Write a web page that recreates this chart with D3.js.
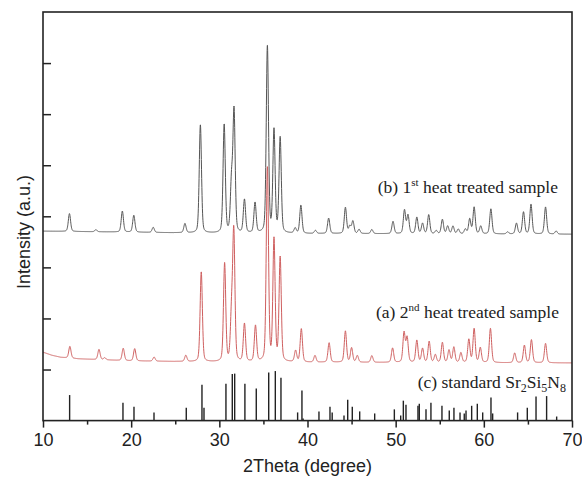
<!DOCTYPE html>
<html><head><meta charset="utf-8">
<script src="https://cdn.jsdelivr.net/npm/d3@7"></script>
<style>body{margin:0;background:#fff}svg{display:block}</style>
</head><body>
<svg id="chart" width="582" height="477"></svg>
<script>
// ---- data ----
const xTicks = [10, 20, 30, 40, 50, 60, 70];
const xMinorTicks = [15, 25, 35, 45, 55, 65];
const yTicks = [100, 200, 300, 400, 500, 600, 700];

// (b) 1st heat treated sample : baseline points and peaks [2theta, height]
const bBaseline = [[10, 371], [20, 369], [30, 367], [50, 366], [70, 365]];
const bPeaks = [
  [13.0, 35], [16.0, 4], [19.0, 41], [20.3, 33], [22.5, 10], [26.1, 18],
  [27.85, 212], [30.55, 212], [31.38, 95], [31.67, 236], [32.85, 65], [34.05, 59],
  [35.45, 366], [36.2, 200], [36.9, 186], [38.6, 10], [39.25, 55], [40.9, 6],
  [42.4, 30], [44.3, 51], [44.8, 14], [45.15, 24], [45.85, 8], [47.3, 8],
  [49.7, 24], [51.0, 46], [51.4, 36], [52.4, 32], [53.05, 20], [53.75, 37],
  [54.6, 6], [55.3, 28], [55.9, 15], [56.5, 15], [57.1, 9], [57.9, 9],
  [58.4, 29], [58.9, 52], [59.65, 15], [60.8, 49], [62.7, 4], [63.7, 21],
  [64.5, 43], [65.35, 58], [67.0, 53], [68.2, 6]
];

// (a) 2nd heat treated sample
const aBaseline = [[10, 134], [11, 128], [12, 124], [14, 121], [20, 117], [30, 115], [70, 113]];
const aPeaks = [
  [13.05, 23], [16.35, 20], [17.0, 4], [19.1, 24], [20.4, 24], [22.6, 8], [26.2, 12],
  [27.95, 176], [30.6, 192], [31.38, 85], [31.64, 252], [32.85, 74], [34.1, 70],
  [35.45, 380], [36.2, 238], [36.9, 203], [38.65, 22], [39.3, 65], [40.85, 13],
  [42.45, 38], [44.3, 61], [45.0, 28], [45.65, 13], [47.3, 13], [49.65, 28],
  [50.95, 58], [51.3, 48], [52.4, 43], [53.05, 27], [53.8, 41], [54.5, 15],
  [55.3, 39], [56.05, 24], [56.6, 30], [57.4, 19], [58.3, 45], [58.9, 66],
  [59.6, 29], [60.75, 67], [63.5, 19], [64.6, 34], [65.4, 45], [67.0, 38]
];

// (c) standard Sr2Si5N8 reference lines [2theta, intensity]
const cLines = [
  [13.02, 50], [19.07, 35], [20.32, 27], [22.59, 16], [26.25, 25], [28.03, 70],
  [28.26, 25], [30.75, 72], [31.47, 91], [31.74, 92], [32.9, 72], [34.19, 63],
  [35.6, 94], [36.35, 97], [36.99, 84], [38.88, 16], [39.37, 59], [39.5, 4],
  [41.3, 18], [42.55, 27], [42.8, 16], [44.14, 10], [44.56, 41], [45.08, 27],
  [45.92, 18], [47.62, 14], [49.85, 22], [50.57, 10], [50.87, 39], [51.17, 31],
  [52.53, 29], [52.68, 33], [53.44, 22], [54.0, 35], [55.25, 29], [56.08, 20],
  [56.61, 25], [57.3, 16], [57.78, 14], [57.98, 20], [58.62, 29], [59.26, 33],
  [59.87, 16], [60.81, 45], [61.0, 14], [63.83, 16], [64.93, 25], [65.92, 47],
  [67.12, 48], [68.26, 8]
];

// ---- drawing ----
const W = 582, H = 477;
const m = {left: 43, top: 12, right: 10, bottom: 56.4};
const svg = d3.select("#chart");
const x = d3.scaleLinear().domain([10, 70]).range([m.left, W - m.right]);
const y = d3.scaleLinear().domain([0, 800]).range([H - m.bottom, m.top]);

function profile(peaks, baseline) {
  const fwhm = 0.3, eta = 0.3;
  const s = fwhm / 2.3548, g = fwhm / 2;
  const bx = baseline.map(d => d[0]), by = baseline.map(d => d[1]);
  const base = d3.scaleLinear().domain(bx).range(by);
  const pts = [];
  for (let t = 10; t <= 70.0001; t += 0.02) {
    let v = base(t);
    for (const [p, h] of peaks) {
      const dx = t - p;
      if (Math.abs(dx) > 3) continue;
      const gau = Math.exp(-dx * dx / (2 * s * s));
      const lor = 1 / (1 + (dx / g) * (dx / g));
      v += h * ((1 - eta) * gau + eta * lor);
    }
    pts.push([t, v]);
  }
  return pts;
}

const line = d3.line().x(d => x(d[0])).y(d => y(d[1]));

svg.append("path").datum(profile(bPeaks, bBaseline))
  .attr("d", line).attr("fill", "none").attr("stroke", "#555").attr("stroke-width", 1);
svg.append("path").datum(profile(aPeaks, aBaseline))
  .attr("d", line).attr("fill", "none").attr("stroke", "#cf5f5f").attr("stroke-width", 1);

svg.append("g").selectAll("line").data(cLines).join("line")
  .attr("x1", d => x(d[0])).attr("x2", d => x(d[0]))
  .attr("y1", y(0)).attr("y2", d => y(d[1]))
  .attr("stroke", "#222").attr("stroke-width", 1.4);

// axes
const fontSans = "'Liberation Sans', Arial, sans-serif";
const xAxis = svg.append("g").attr("transform", `translate(0,${y(0)})`)
  .call(d3.axisBottom(x).tickValues(xTicks).tickSize(7).tickPadding(6).tickSizeOuter(0));
xAxis.selectAll("text").attr("font-family", fontSans).attr("font-size", 18).attr("fill", "#222");
svg.append("g").attr("transform", `translate(0,${y(0)})`)
  .call(d3.axisBottom(x).tickValues(xMinorTicks).tickSize(4).tickFormat("").tickSizeOuter(0));
svg.append("g").attr("transform", `translate(${m.left},0)`)
  .call(d3.axisRight(y).tickValues(yTicks).tickSize(8).tickFormat("").tickSizeOuter(0));
svg.selectAll(".domain").remove();
svg.selectAll(".tick line").attr("stroke", "#222").attr("stroke-width", 1.5);

// frame
svg.append("rect").attr("x", m.left).attr("y", m.top)
  .attr("width", W - m.right - m.left).attr("height", y(0) - m.top)
  .attr("fill", "none").attr("stroke", "#222").attr("stroke-width", 1.6);

// axis titles
svg.append("text").attr("x", (m.left + W - m.right) / 2).attr("y", 472)
  .attr("text-anchor", "middle").attr("font-family", fontSans).attr("font-size", 18)
  .attr("fill", "#222").text("2Theta (degree)");
svg.append("text").attr("transform", "translate(30,232) rotate(-90)")
  .attr("text-anchor", "middle").attr("font-family", fontSans).attr("font-size", 18)
  .attr("fill", "#222").text("Intensity (a.u.)");

// series labels
const serif = "'Liberation Serif', 'Times New Roman', serif";
function label(xEnd, yBase, parts) {
  const t = svg.append("text").attr("x", xEnd).attr("y", yBase).attr("text-anchor", "end")
    .attr("font-family", serif).attr("font-size", 17.5).attr("fill", "#222");
  for (const [txt, kind] of parts) {
    const sp = t.append("tspan").text(txt);
    if (kind === "sup") sp.attr("dy", -7).attr("font-size", 11);
    else if (kind === "sub") sp.attr("dy", 4).attr("font-size", 12);
    else if (kind === "back-sup") sp.attr("dy", 7);
    else if (kind === "back-sub") sp.attr("dy", -4);
  }
}
label(558, 193, [["(b) 1"], ["st", "sup"], [" heat treated sample", "back-sup"]]);
label(559, 318, [["(a) 2"], ["nd", "sup"], [" heat treated sample", "back-sup"]]);
label(566, 388, [["(c) standard Sr"], ["2", "sub"], ["Si", "back-sub"], ["5", "sub"], ["N", "back-sub"], ["8", "sub"]]);
</script>
</body></html>
